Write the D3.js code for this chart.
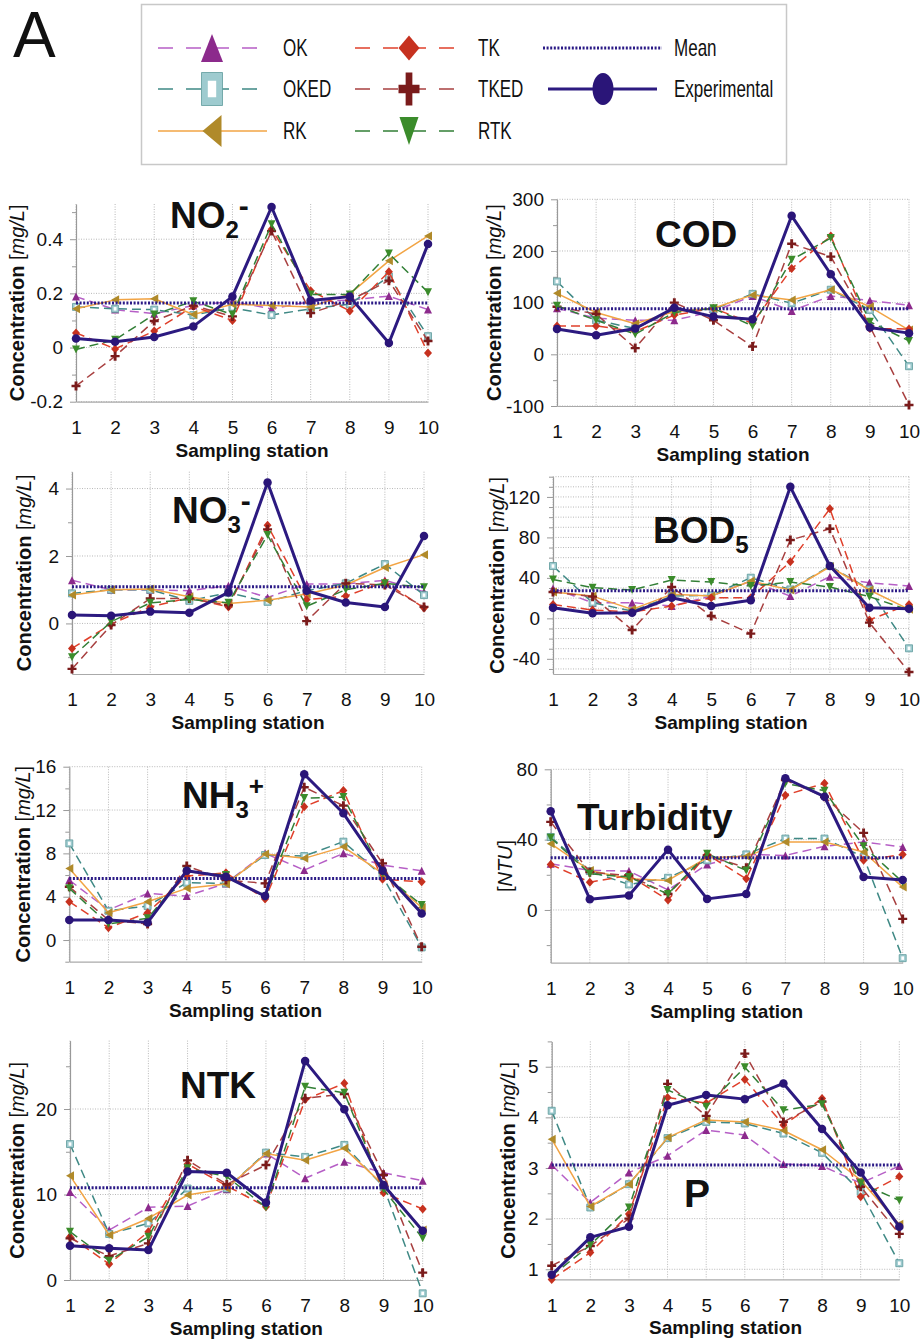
<!DOCTYPE html>
<html>
<head>
<meta charset="utf-8">
<script src="https://cdn.jsdelivr.net/npm/d3@7"></script>
<style>
  body { margin: 0; background: #fff; }
  text { font-family: Arial, "Liberation Sans", Helvetica, sans-serif; fill: #111; }
</style>
</head>
<body>
<div id="chart"></div>
<script>
// Stations on the x axis
var stations = [1, 2, 3, 4, 5, 6, 7, 8, 9, 10];

// Series order used in every value table below
var seriesNames = ["OK", "OKED", "RK", "TK", "TKED", "RTK", "Experimental"];

// NO2- [mg/L]
var no2Values = [
  [0.188, 0.14, 0.125, 0.155, 0.17, 0.143, 0.17, 0.175, 0.19, 0.14],
  [0.15, 0.143, 0.14, 0.12, 0.147, 0.12, 0.143, 0.16, 0.262, 0.042],
  [0.143, 0.176, 0.18, 0.122, 0.16, 0.155, 0.15, 0.198, 0.32, 0.412],
  [0.054, -0.005, 0.061, 0.152, 0.1, 0.437, 0.21, 0.135, 0.28, -0.02],
  [-0.142, -0.032, 0.098, 0.155, 0.115, 0.43, 0.127, 0.174, 0.247, 0.024],
  [-0.007, 0.029, 0.122, 0.171, 0.122, 0.455, 0.196, 0.196, 0.347, 0.204],
  [0.033, 0.021, 0.039, 0.078, 0.188, 0.519, 0.174, 0.188, 0.017, 0.382]
];
var no2Mean = 0.164;
var no2Ticks = [-0.2, 0, 0.2, 0.4];

// COD [mg/L]
var codValues = [
  [89, 70, 66, 66, 83, 113, 84, 113, 104, 95],
  [141, 66, 50, 86, 87, 117, 99, 125, 86, -23],
  [118, 81, 59, 83, 89, 115, 105, 125, 92, 47],
  [55, 55, 44, 76, 89, 60, 166, 229, 50, 49],
  [92, 78, 12, 100, 66, 15, 214, 189, 54, -98],
  [94, 66, 39, 81, 89, 55, 183, 225, 63, 26],
  [49, 37, 50, 90, 73, 68, 268, 155, 52, 41]
];
var codMean = 88;
var codTicks = [-100, 0, 100, 200, 300];

// NO3- [mg/L]
var no3Values = [
  [1.28, 1.0, 1.0, 0.97, 1.12, 0.77, 1.17, 1.17, 1.28, 0.94],
  [0.89, 1.0, 1.0, 0.67, 0.91, 0.64, 0.97, 1.19, 1.76, 0.84],
  [0.84, 1.0, 1.02, 0.79, 0.59, 0.69, 0.87, 1.14, 1.66, 2.04],
  [-0.74, -0.02, 0.49, 0.76, 0.49, 2.91, 0.71, 0.81, 1.23, 0.46],
  [-1.35, -0.05, 0.74, 0.74, 0.54, 2.79, 0.07, 1.19, 1.14, 0.49],
  [-1.0, 0.05, 0.61, 0.71, 0.61, 2.62, 0.51, 1.0, 1.19, 1.07],
  [0.25, 0.23, 0.35, 0.32, 0.92, 4.18, 0.97, 0.62, 0.49, 2.59]
];
var no3Mean = 1.09;
var no3Ticks = [0, 2, 4];

// BOD5 [mg/L]
var bodValues = [
  [29.6, 15.5, 15.5, 12.2, 22, 36.9, 22, 41.2, 35.2, 32],
  [51.7, 15.5, 7.2, 22, 22.7, 40.2, 28.6, 51.7, 28.6, -29.6],
  [26, 22, 8.9, 23.7, 22, 36.9, 28, 51, 28, 8.9],
  [13.8, 8.2, 6.3, 12.2, 20.4, 20.4, 56, 108.3, -1.6, 13.8],
  [26, 21.4, -11.5, 31, 2.3, -15.1, 77.4, 88.6, -4.3, -53],
  [38.5, 30.3, 28, 37.9, 35.9, 31.9, 35.9, 31, 21.4, 8.2],
  [10.5, 5, 5.6, 20.4, 12.2, 17.8, 130, 51.7, 10.5, 9.5]
];
var bodMean = 27.3;
var bodTicks = [-40, 0, 40, 80, 120];

// NH3+ [mg/L]
var nh3Values = [
  [5.54, 2.77, 4.3, 4.06, 5.23, 8.0, 6.46, 8.0, 6.92, 6.4],
  [8.92, 2.7, 3.14, 5.29, 5.23, 7.85, 7.75, 9.08, 5.9, -0.68],
  [6.6, 2.52, 3.54, 4.77, 5.17, 7.94, 7.54, 8.6, 6.15, 3.0],
  [3.54, 1.14, 2.52, 5.9, 6.2, 3.78, 12.3, 13.8, 5.6, 5.38],
  [4.92, 1.85, 1.48, 6.83, 5.54, 5.23, 14.1, 12.4, 7.08, -0.62],
  [4.77, 1.48, 2.0, 6.3, 6.0, 4.0, 13.1, 13.2, 6.15, 3.23],
  [1.85, 1.85, 1.63, 6.4, 5.85, 4.06, 15.3, 11.7, 6.4, 2.46]
];
var nh3Mean = 5.69;
var nh3Ticks = [0, 4, 8, 12, 16];

// Turbidity [NTU]
var turbValues = [
  [26.3, 22.5, 22.1, 11.4, 25.9, 31.6, 31, 36.2, 38.7, 35.8],
  [41.5, 22.1, 14.5, 18.3, 28.2, 31.6, 40.6, 40.6, 30.1, -27.4],
  [37.7, 22.5, 17.7, 16.8, 29.7, 30.5, 38.7, 38.7, 33, 13],
  [25.9, 15.8, 19.6, 5.7, 31.6, 17.7, 65.3, 72, 28.2, 31.6],
  [50.1, 21.5, 19.6, 9.1, 31, 24, 73.9, 64.4, 43.8, -5.1],
  [41.1, 20.6, 18.7, 9.1, 32, 22.5, 72, 67.8, 36.2, 15.8],
  [56.2, 6.1, 8.2, 34.3, 6.3, 9.1, 74.9, 64.4, 18.7, 17.1]
];
var turbMean = 29.7;
var turbTicks = [0, 40, 80];

// NTK [mg/L]
var ntkValues = [
  [10.3, 5.85, 8.5, 8.65, 10.6, 14.8, 11.9, 13.84, 12.55, 11.6],
  [15.9, 5.38, 6.63, 10.7, 10.7, 14.9, 14.4, 15.8, 10.9, -1.56],
  [12.2, 5.26, 7.2, 9.94, 10.7, 14.8, 14.0, 15.4, 11.1, 5.85],
  [5.07, 1.87, 5.65, 13.57, 11.0, 8.58, 21.1, 23.0, 10.2, 8.3],
  [4.87, 2.8, 4.29, 14.0, 11.2, 13.45, 21.25, 21.75, 12.3, 0.86],
  [5.65, 2.26, 5.07, 13.06, 12.1, 8.5, 22.6, 21.9, 10.6, 4.87],
  [4.0, 3.7, 3.5, 12.7, 12.55, 9.05, 25.6, 19.96, 11.1, 5.77]
];
var ntkMean = 10.8;
var ntkTicks = [0, 10, 20];

// P [mg/L]
var pValues = [
  [3.06, 2.32, 2.91, 3.24, 3.75, 3.65, 3.08, 3.04, 2.7, 3.04],
  [4.13, 2.22, 2.68, 3.59, 3.91, 3.88, 3.68, 3.3, 2.53, 1.12],
  [3.57, 2.24, 2.68, 3.6, 3.95, 3.91, 3.74, 3.36, 2.76, 1.89],
  [0.8, 1.33, 2.09, 4.39, 4.28, 4.75, 3.85, 4.37, 2.43, 2.83],
  [1.07, 1.46, 2.0, 4.66, 4.03, 5.26, 3.91, 4.31, 2.63, 1.7],
  [0.87, 1.48, 2.22, 4.54, 4.21, 4.99, 4.14, 4.26, 2.7, 2.36],
  [0.89, 1.63, 1.84, 4.24, 4.44, 4.36, 4.67, 3.77, 2.91, 1.84]
];
var pMean = 3.06;
var pTicks = [1, 2, 3, 4, 5];

// Look of each series (line + marker)
var styles = {
  OK:   { line: "#b65fc6", dash: "9,5", width: 1.5, marker: "triUp",   fill: "#8c2a8c", stroke: "none" },
  OKED: { line: "#3f8985", dash: "9,5", width: 1.5, marker: "square",  fill: "#9ecbcf", stroke: "#5e9a9c" },
  RK:   { line: "#f2a444", dash: null,  width: 1.5, marker: "triLeft", fill: "#b08a2a", stroke: "none" },
  TK:   { line: "#e0402b", dash: "9,5", width: 1.5, marker: "diamond", fill: "#c6311f", stroke: "none" },
  TKED: { line: "#a84040", dash: "9,5", width: 1.5, marker: "plus",    fill: "#7a1b1b", stroke: "none" },
  RTK:  { line: "#327f36", dash: "9,5", width: 1.5, marker: "triDown", fill: "#3b8c2b", stroke: "none" },
  Experimental: { line: "#2c1a80", dash: null, width: 3, marker: "circle", fill: "#2a1578", stroke: "none" }
};
var meanColor = "#2b1a86";

var svg = d3.select("#chart").append("svg")
  .attr("width", 922)
  .attr("height", 1341);

// marker path for a given type centred on cx, cy with width w and height h
function markerPath(type, cx, cy, w, h) {
  var hw = w / 2, hh = h / 2;
  if (type == "triUp") return `M${cx - hw},${cy + hh}L${cx + hw},${cy + hh}L${cx},${cy - hh}Z`;
  if (type == "triDown") return `M${cx - hw},${cy - hh}L${cx + hw},${cy - hh}L${cx},${cy + hh}Z`;
  if (type == "triLeft") return `M${cx - hw},${cy}L${cx + hw},${cy - hh}L${cx + hw},${cy + hh}Z`;
  if (type == "diamond") return `M${cx},${cy - hh}L${cx + hw},${cy}L${cx},${cy + hh}L${cx - hw},${cy}Z`;
  if (type == "square") return `M${cx - hw},${cy - hh}h${w}v${h}h${-w}Z`;
  if (type == "plus") {
    var t = w * 0.32 / 2, tv = h * 0.26 / 2;
    return `M${cx - t},${cy - hh}h${2 * t}v${hh - tv}h${hw - t}v${2 * tv}h${-(hw - t)}v${hh - tv}h${-2 * t}v${-(hh - tv)}h${-(hw - t)}v${-2 * tv}h${hw - t}Z`;
  }
  // ellipse
  return `M${cx - hw},${cy}a${hw},${hh} 0 1,0 ${w},0a${hw},${hh} 0 1,0 ${-w},0Z`;
}

function addMarkers(g, name, pts, w, h) {
  var st = styles[name];
  g.selectAll(null)
    .data(pts)
    .enter()
    .append("path")
    .attr("d", d => markerPath(st.marker, d[0], d[1], w, h))
    .attr("fill", st.fill)
    .attr("stroke", st.stroke)
    .attr("stroke-width", 0.8);
  if (st.marker == "square") {
    g.selectAll(null)
      .data(pts)
      .enter()
      .append("path")
      .attr("d", d => markerPath("square", d[0], d[1], w * 0.4, h * 0.5))
      .attr("fill", "#fff");
  }
}

var plotMarkerSize = {
  OK: [8, 8], OKED: [7, 7], RK: [8, 9], TK: [8, 9], TKED: [9, 9], RTK: [8, 8], Experimental: [8.5, 8.5]
};

// Panel layout
var panels = [
  { values: no2Values, mean: no2Mean, ticks: no2Ticks, domain: [-0.2, 0.53], range: [401.7, 204], minor: 0.1,
    x1: 76, x10: 428, title: [["NO", 0, 37], ["2", 10, 24], ["-", -22, 30]], tx: 170, ty: 228, ylab: "conc", ylx: 17 },
  { values: codValues, mean: codMean, ticks: codTicks, domain: [-100, 300], range: [406, 199.3], minor: 50,
    x1: 557, x10: 909, title: [["COD", 0, 37]], tx: 655, ty: 247, ylab: "conc", ylx: 494 },
  { values: no3Values, mean: no3Mean, ticks: no3Ticks, domain: [-1.5, 4.5], range: [674, 471.7], minor: 1,
    x1: 72, x10: 424, title: [["NO", 0, 37], ["3", 10, 24], ["-", -22, 30]], tx: 172, ty: 523, ylab: "conc", ylx: 24 },
  { values: bodValues, mean: bodMean, ticks: bodTicks, domain: [-55, 140], range: [674, 476.7], minor: 10, grid: 10,
    x1: 553, x10: 909, title: [["BOD", 0, 37], ["5", 10, 24]], tx: 653, ty: 543, ylab: "conc", ylx: 497 },
  { values: nh3Values, mean: nh3Mean, ticks: nh3Ticks, domain: [-2, 16], range: [961.7, 766.7], minor: 2,
    x1: 69.3, x10: 421.7, title: [["NH", 0, 37], ["3", 10, 24], ["+", -23, 26]], tx: 182, ty: 808, ylab: "conc", ylx: 23 },
  { values: turbValues, mean: turbMean, ticks: turbTicks, domain: [-30, 80], range: [962.7, 769.3], minor: 20,
    x1: 550.7, x10: 902.7, title: [["Turbidity", 0, 37]], tx: 577, ty: 830, ylab: "ntu", ylx: 505 },
  { values: ntkValues, mean: ntkMean, ticks: ntkTicks, domain: [0, 28], range: [1280, 1040.6], minor: 5,
    x1: 70, x10: 422.7, title: [["NTK", 0, 37]], tx: 180, ty: 1098, ylab: "conc", ylx: 17 },
  { values: pValues, mean: pMean, ticks: pTicks, domain: [0.8, 5.5], range: [1279.4, 1041.4], minor: 0.5,
    x1: 551.7, x10: 899.3, title: [["P", 0, 39]], tx: 684, ty: 1207, ylab: "conc", ylx: 508 }
];

panels.forEach(function(p) {
  var x = d3.scaleLinear().domain([1, 10]).range([p.x1, p.x10]);
  var y = d3.scaleLinear().domain(p.domain).range(p.range);
  var top = p.range[1], bottom = p.range[0];
  var g = svg.append("g");

  // grid
  g.selectAll(null)
    .data(stations)
    .enter()
    .append("line")
    .attr("x1", d => x(d)).attr("x2", d => x(d))
    .attr("y1", top).attr("y2", bottom)
    .attr("stroke", "#b8b8b8")
    .attr("stroke-dasharray", "1,1.5");

  var gridVals = p.grid ? d3.range(-50, 141, p.grid) : p.ticks;
  g.selectAll(null)
    .data(gridVals)
    .enter()
    .append("line")
    .attr("x1", p.x1).attr("x2", p.x10)
    .attr("y1", d => y(d)).attr("y2", d => y(d))
    .attr("stroke", "#b8b8b8")
    .attr("stroke-dasharray", "1,1.5");

  // minor ticks
  var lo = Math.ceil(p.domain[0] / p.minor - 1e-9);
  var hi = Math.floor(p.domain[1] / p.minor + 1e-9);
  var minorVals = d3.range(lo, hi + 1).map(k => +(k * p.minor).toFixed(6))
    .filter(v => p.ticks.indexOf(v) < 0);
  g.append("g")
    .attr("transform", `translate(${p.x1},0)`)
    .call(d3.axisLeft(y).tickValues(minorVals).tickSize(4).tickSizeOuter(0).tickFormat(""))
    .call(a => a.select(".domain").remove())
    .selectAll("line").attr("stroke", "#999");

  // left axis
  var leftAxis = g.append("g")
    .attr("transform", `translate(${p.x1},0)`)
    .call(d3.axisLeft(y).tickValues(p.ticks).tickSize(6).tickSizeOuter(0).tickPadding(7).tickFormat(d => String(d)));
  leftAxis.select(".domain").attr("stroke", "#999").attr("stroke-width", 1.2);
  leftAxis.selectAll("line").attr("stroke", "#999");
  leftAxis.selectAll("text").attr("font-size", "19px").attr("font-family", "Arial, 'Liberation Sans', sans-serif").attr("fill", "#111");

  // bottom axis
  var bottomAxis = g.append("g")
    .attr("transform", `translate(0,${bottom})`)
    .call(d3.axisBottom(x).tickValues(stations).tickSize(0).tickSizeOuter(0).tickPadding(19).tickFormat(d3.format("d")));
  bottomAxis.select(".domain").attr("stroke", "#aaa").attr("stroke-width", 1.2);
  bottomAxis.selectAll("text").attr("font-size", "19px").attr("font-family", "Arial, 'Liberation Sans', sans-serif").attr("fill", "#111");

  g.append("text")
    .attr("x", (p.x1 + p.x10) / 2)
    .attr("y", bottom + 55)
    .attr("text-anchor", "middle")
    .attr("font-size", "19px")
    .attr("font-weight", "bold")
    .text("Sampling station");

  // y label
  var yl = g.append("text")
    .attr("transform", `translate(${p.ylx},${(top + bottom) / 2}) rotate(-90)`)
    .attr("text-anchor", "middle")
    .attr("dy", "0.35em")
    .attr("font-size", "20px");
  if (p.ylab == "conc") {
    yl.append("tspan").attr("font-weight", "bold").text("Concentration ");
    yl.append("tspan").text("[");
    yl.append("tspan").attr("font-style", "italic").text("mg/L");
    yl.append("tspan").text("]");
  } else {
    yl.append("tspan").text("[");
    yl.append("tspan").attr("font-style", "italic").text("NTU");
    yl.append("tspan").text("]");
  }

  // title
  var t = g.append("text")
    .attr("x", p.tx)
    .attr("y", p.ty)
    .attr("font-weight", "bold");
  p.title.forEach(function(part) {
    t.append("tspan").attr("dy", part[1]).attr("font-size", part[2] + "px").text(part[0]);
  });

  // series lines (models first)
  var line = d3.line()
    .x((d, i) => x(stations[i]))
    .y(d => y(d));

  function drawSeries(si) {
    var name = seriesNames[si];
    var st = styles[name];
    var vals = p.values[si];
    g.append("path")
      .datum(vals)
      .attr("d", line)
      .attr("fill", "none")
      .attr("stroke", st.line)
      .attr("stroke-width", st.width)
      .attr("stroke-dasharray", st.dash)
      .attr("stroke-linejoin", "round");
    var pts = vals.map((v, i) => [x(stations[i]), y(v)]);
    addMarkers(g, name, pts, plotMarkerSize[name][0], plotMarkerSize[name][1]);
  }

  for (var si = 0; si < 6; si++) drawSeries(si);

  // mean line
  g.append("line")
    .attr("x1", x(1)).attr("x2", x(10))
    .attr("y1", y(p.mean)).attr("y2", y(p.mean))
    .attr("stroke", meanColor)
    .attr("stroke-width", 3)
    .attr("stroke-dasharray", "2,1.6");

  drawSeries(6);
});

// Panel letter
svg.append("text")
  .attr("x", 13)
  .attr("y", 57)
  .attr("font-size", "64px")
  .text("A");

// Legend
var legendItems = ["OK", "OKED", "RK", "TK", "TKED", "RTK", "Mean", "Experimental"];
var legCol = [158, 355, 543];
var legRow = [48, 89, 131];

svg.append("rect")
  .attr("x", 141.5).attr("y", 4.5)
  .attr("width", 645).attr("height", 160)
  .attr("fill", "#fff")
  .attr("stroke", "#c8c8c8")
  .attr("stroke-width", 1.5);

var legendMarkerSize = {
  OK: [22, 28], OKED: [21, 33], RK: [19, 32], TK: [21, 25], TKED: [21, 33], RTK: [19, 28], Experimental: [21, 32]
};

legendItems.forEach(function(name, i) {
  var c = Math.floor(i / 3), r = i % 3;
  var lx = legCol[c], ly = legRow[r];
  var len = c == 2 ? 116 : 100;
  var lg = svg.append("g");
  if (name == "Mean") {
    lg.append("line")
      .attr("x1", lx).attr("x2", lx + len + 3)
      .attr("y1", ly).attr("y2", ly)
      .attr("stroke", meanColor)
      .attr("stroke-width", 3)
      .attr("stroke-dasharray", "2,1.6");
  } else {
    var st = styles[name];
    var x0 = name == "Experimental" ? lx + 5 : lx;
    var x1 = name == "Experimental" ? lx + 114 : (name == "RK" ? lx + 109 : lx + len);
    lg.append("line")
      .attr("x1", x0).attr("x2", x1)
      .attr("y1", ly).attr("y2", ly)
      .attr("stroke", st.line)
      .attr("stroke-width", name == "Experimental" ? 3 : 1.6)
      .attr("stroke-dasharray", st.dash ? "15,13" : null);
    var mx = name == "Experimental" ? lx + 60 : lx + 54;
    addMarkers(lg, name, [[mx, ly]], legendMarkerSize[name][0], legendMarkerSize[name][1]);
  }
  var tx = c == 0 ? 283 : (c == 1 ? 478 : 674);
  svg.append("text")
    .attr("transform", `translate(${tx},${ly + 8}) scale(0.74,1)`)
    .attr("font-size", "23px")
    .text(name);
});
</script>
</body>
</html>
